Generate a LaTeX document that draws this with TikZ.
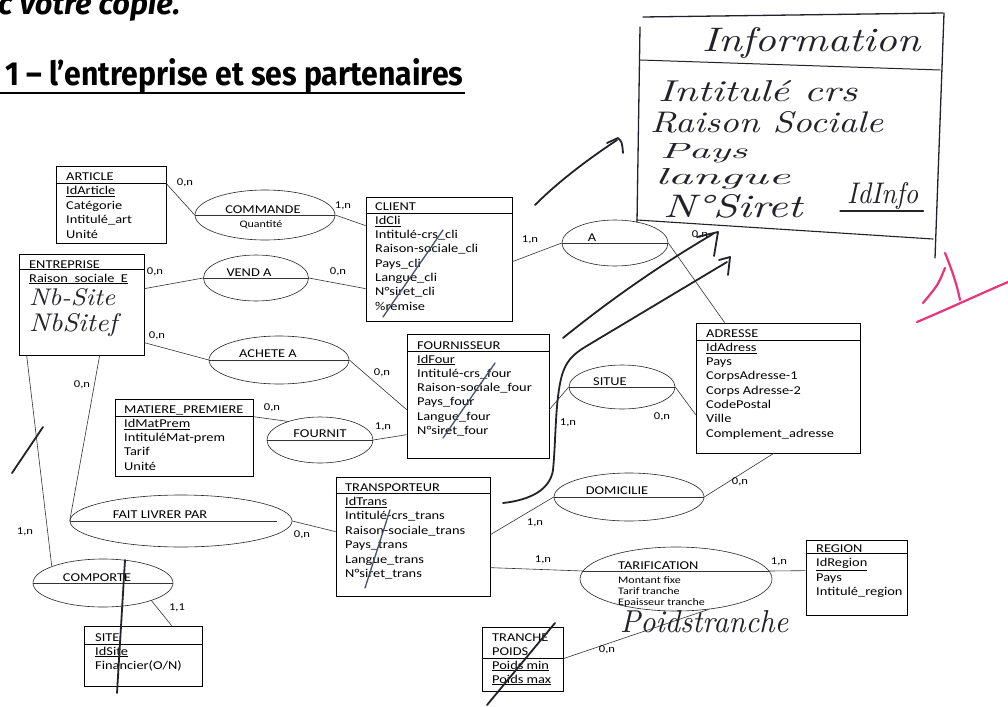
\documentclass[tikz,border=0pt]{standalone}
\usepackage{fontspec}
\usepackage{graphicx}
\usetikzlibrary{shapes.geometric}
\newfontfamily\cali{Carlito}[FakeStretch=1.2]
\newfontfamily\comic{Fira Sans}
\definecolor{pinkmark}{HTML}{E8347A}
\definecolor{ink}{HTML}{222228}
\definecolor{pencil}{HTML}{4A5068}
\newcommand\hw[3]{\resizebox{#1}{#2}{\itshape #3}}
\tikzset{
  ent/.style={draw=black, line width=0.7pt, inner sep=0pt, rectangle},
  hdr/.style={draw=black, line width=0.7pt},
  rel/.style={draw=black!85, line width=0.6pt, ellipse, inner sep=0pt},
  lnk/.style={draw=black!80, line width=0.6pt},
  att/.style={anchor=base west, inner sep=0pt, font=\cali\fontsize{12}{14}\selectfont},
  rlab/.style={anchor=base, inner sep=0pt, font=\cali\fontsize{12}{14}\selectfont},
  small/.style={anchor=base west, inner sep=0pt, font=\cali\fontsize{10}{11}\selectfont},
  card/.style={anchor=center, inner sep=0pt, font=\cali\fontsize{10.5}{12}\selectfont},
  hand/.style={anchor=base west, inner sep=0pt, text=ink},
  stroke/.style={draw=ink, line width=1.8pt, line cap=round, line join=round},
  pen/.style={draw=pencil, line width=1.3pt, line cap=round},
  pinkst/.style={draw=pinkmark, line width=2.2pt, line cap=round}
}
\begin{document}
\begin{tikzpicture}[x=1pt,y=-1pt]
\useasboundingbox (0,0) rectangle (1008,706);
\fill[white] (0,0) rectangle (1008,706);

% titles
\node[anchor=base west, inner sep=0pt] (t0) at (-2,15) {\resizebox{182pt}{!}{\comic\bfseries\itshape c votre copie.}};
\node[anchor=base west, inner sep=0pt] (t1) at (5,86) {\resizebox{458pt}{27pt}{\comic\bfseries 1 – l’entreprise et ses partenaires}};
\draw[line width=1.3pt] ([yshift=-7pt,xshift=-5pt]t1.base west) -- ([yshift=-7pt,xshift=2pt]t1.base east);

% entities
\node[ent, minimum width=110pt, minimum height=77pt] (article) at (111,204.5) {};
\node[ent, minimum width=125pt, minimum height=101pt] (entreprise) at (81.5,304.5) {};
\node[ent, minimum width=146pt, minimum height=124pt] (client) at (439,259) {};
\node[ent, minimum width=142pt, minimum height=124pt] (four) at (478,396) {};
\node[ent, minimum width=138pt, minimum height=77pt] (mat) at (184,437.5) {};
\node[ent, minimum width=164pt, minimum height=130pt] (adresse) at (778,388) {};
\node[ent, minimum width=154pt, minimum height=119pt] (trans) at (413,536.5) {};
\node[ent, minimum width=118pt, minimum height=60pt] (site) at (143,656) {};
\node[ent, minimum width=101pt, minimum height=75pt] (region) at (856.5,577.5) {};
\node[ent, minimum width=81pt, minimum height=64pt] (tranche) at (522.5,659) {};

\draw[hdr] ([yshift=-18pt]article.north west) -- ([yshift=-18pt]article.north east);
\draw[hdr] ([yshift=-16pt]entreprise.north west) -- ([yshift=-16pt]entreprise.north east);
\draw[hdr] ([yshift=-17pt]client.north west) -- ([yshift=-17pt]client.north east);
\draw[hdr] ([yshift=-18pt]four.north west) -- ([yshift=-18pt]four.north east);
\draw[hdr] ([yshift=-18pt]mat.north west) -- ([yshift=-18pt]mat.north east);
\draw[hdr] ([yshift=-18pt]adresse.north west) -- ([yshift=-18pt]adresse.north east);
\draw[hdr] ([yshift=-17pt]trans.north west) -- ([yshift=-17pt]trans.north east);
\draw[hdr] ([yshift=-19pt]site.north west) -- ([yshift=-19pt]site.north east);
\draw[hdr] ([yshift=-14pt]region.north west) -- ([yshift=-14pt]region.north east);
\draw[hdr] ([yshift=-32pt]tranche.north west) -- ([yshift=-32pt]tranche.north east);

% attributes
\foreach \t [count=\i] in {ARTICLE, \underline{IdArticle}, Catégorie, Intitulé\_art, Unité}
  \node[att] (article-\i) at (66,{180+(\i-1)*14.5}) {\t};
\node[att] (entreprise-1) at (29,268) {ENTREPRISE};
\node[att] (entreprise-2) at (29,282) {\underline{Raison\ \ sociale\ \ E}};
\foreach \t [count=\i] in {CLIENT, \underline{IdCli}, Intitulé-crs\_cli, Raison-sociale\_cli, Pays\_cli, Langue\_cli, N°siret\_cli, \%remise}
  \node[att] (client-\i) at (375,{210+(\i-1)*14.3}) {\t};
\foreach \t [count=\i] in {FOURNISSEUR, \underline{IdFour}, Intitulé-crs\_four, Raison-sociale\_four, Pays\_four, Langue\_four, N°siret\_four}
  \node[att] (four-\i) at (417,{349+(\i-1)*14.2}) {\t};
\foreach \t [count=\i] in {MATIERE\_PREMIERE, \underline{IdMatPrem}, IntituléMat-prem, Tarif, Unité}
  \node[att] (mat-\i) at (124,{413+(\i-1)*14.3}) {\t};
\foreach \t [count=\i] in {ADRESSE, \underline{IdAdress}, Pays, CorpsAdresse-1, Corps Adresse-2, CodePostal, Ville, Complement\_adresse}
  \node[att] (adresse-\i) at (706,{337+(\i-1)*14.3}) {\t};
\foreach \t [count=\i] in {TRANSPORTEUR, \underline{IdTrans}, Intitulé-crs\_trans, Raison-sociale\_trans, Pays\_trans, Langue\_trans, N°siret\_trans}
  \node[att] (trans-\i) at (345,{491+(\i-1)*14.4}) {\t};
\foreach \t [count=\i] in {SITE, \underline{IdSite}, Financier(O/N)}
  \node[att] (site-\i) at (95,{641+(\i-1)*14}) {\t};
\foreach \t [count=\i] in {REGION, \underline{IdRegion}, Pays, Intitulé\_region}
  \node[att] (region-\i) at (816,{552+(\i-1)*14.5}) {\t};
\foreach \t [count=\i] in {TRANCHE, POIDS, \underline{Poids min}, \underline{Poids max}}
  \node[att] (tranche-\i) at (492,{641+(\i-1)*14}) {\t};

% relations
\node[rel, minimum width=140pt, minimum height=50pt] (commande) at (265,215) {};
\node[rel, minimum width=105pt, minimum height=46pt] (venda) at (256,278) {};
\node[rel, minimum width=106pt, minimum height=46pt] (a) at (615,243) {};
\node[rel, minimum width=140pt, minimum height=48pt] (achete) at (279,360) {};
\node[rel, minimum width=106pt, minimum height=46pt] (fournit) at (320,440) {};
\node[rel, minimum width=106pt, minimum height=44pt] (situe) at (622,387) {};
\node[rel, minimum width=150pt, minimum height=48pt] (domicilie) at (629,497) {};
\node[rel, minimum width=222pt, minimum height=52pt] (flp) at (181,521) {};
\node[rel, minimum width=140pt, minimum height=48pt] (comporte) at (103,583) {};
\node[rel, minimum width=192pt, minimum height=64pt] (tarif) at (676,579) {};
\coordinate (tl) at (583,571);
\coordinate (tr) at (769,571);

\foreach \r in {commande, venda, a, achete, fournit, situe, domicilie, comporte}
  \draw[lnk] (\r.west) -- (\r.east);
\draw[lnk] (flp.west) -- ([xshift=-15pt]flp.east);
\draw[lnk] (tl) -- (tr);

\node[rlab] (l-commande) at (263,213) {COMMANDE};
\node[small, anchor=base] (l-quant) at (261,227) {Quantité};
\node[rlab] (l-venda) at (249,276) {VEND A};
\node[rlab] (l-a) at (592,241) {A};
\node[rlab] (l-achete) at (268,357) {ACHETE A};
\node[rlab] (l-fournit) at (320,437) {FOURNIT};
\node[rlab] (l-situe) at (610,385) {SITUE};
\node[rlab] (l-dom) at (617,494) {DOMICILIE};
\node[rlab] (l-flp) at (160,518) {FAIT LIVRER PAR};
\node[rlab] (l-comp) at (97,581) {COMPORTE};
\node[att] (l-tarif) at (618,569) {TARIFICATION};
\node[small] (l-t1) at (618,583) {Montant fixe};
\node[small] (l-t2) at (618,594) {Tarif tranche};
\node[small] (l-t3) at (618,605) {Epaisseur tranche};

% connectors
\draw[lnk] ([yshift=-18pt]article.north east) -- (commande.west);
\draw[lnk] (commande.east) -- ([yshift=-29pt]client.north west);
\draw[lnk] ([yshift=-35pt]entreprise.north east) -- (venda.west);
\draw[lnk] (venda.east) -- ([yshift=-92pt]client.north west);
\draw[lnk] ([yshift=-65pt]client.north east) -- (a.west);
\draw[lnk] (a.east) -- ([xshift=29pt]adresse.north west);
\draw[lnk] ([yshift=-89pt]entreprise.north east) -- (achete.west);
\draw[lnk] (achete.east) -- ([yshift=-76pt]four.north west);
\draw[lnk] ([yshift=-18pt]mat.north east) -- (fournit.150);
\draw[lnk] (fournit.east) -- ([yshift=-101pt]four.north west);
\draw[lnk] ([yshift=-76pt]four.north east) -- (situe.west);
\draw[lnk] (situe.east) -- ([yshift=-92pt]adresse.north west);
\draw[lnk] ([xshift=78pt]adresse.south west) -- (domicilie.east);
\draw[lnk] (domicilie.west) -- ([yshift=-58pt]trans.north east);
\draw[lnk] ([xshift=81pt]entreprise.south west) -- (flp.west);
\draw[lnk] (flp.east) -- ([yshift=-55pt]trans.north west);
\draw[lnk] ([xshift=8pt]entreprise.south west) -- (comporte.162);
\draw[lnk] (comporte.340) -- ([xshift=88pt]site.north west);
\draw[lnk] ([yshift=-91pt]trans.north east) -- (tl);
\draw[lnk] (tr) -- ([yshift=-31pt]region.north west);
\draw[lnk] ([yshift=-32pt]tranche.north east) -- (tarif.317);

% cardinalities
\node[card] (c1) at (185,183) {0,n};
\node[card] (c2) at (343,206) {1,n};
\node[card] (c3) at (155,272) {0,n};
\node[card] (c4) at (338,272) {0,n};
\node[card] (c5) at (530,240) {1,n};
\node[card] (c6) at (700,235) {0,n};
\node[card] (c7) at (157,336) {0,n};
\node[card] (c8) at (382,373) {0,n};
\node[card] (c9) at (272,408) {0,n};
\node[card] (c10) at (383,427) {1,n};
\node[card] (c11) at (568,423) {1,n};
\node[card] (c12) at (662,417) {0,n};
\node[card] (c13) at (740,482) {0,n};
\node[card] (c14) at (535,523) {1,n};
\node[card] (c15) at (82,385) {0,n};
\node[card] (c16) at (302,535) {0,n};
\node[card] (c17) at (25,532) {1,n};
\node[card] (c18) at (177,608) {1,1};
\node[card] (c19) at (543,560) {1,n};
\node[card] (c20) at (779,562) {1,n};
\node[card] (c21) at (607,650) {0,n};

% handwritten Information box
\draw[stroke, line width=1.3pt] (643,17) -- (943,13);
\draw[stroke, line width=1.3pt] (640,27) -- (637,222);
\draw[stroke, line width=1.3pt] (944,13) -- (935,258);
\draw[stroke, line width=1.1pt] (637,220) -- (933,239);
\draw[stroke, line width=1.0pt] (640,60) -- (940,70);
\node[hand] (h-info) at (702,52) {\hw{218pt}{24pt}{Information}};
\node[hand] (h-int) at (658,102) {\hw{199pt}{21pt}{Intitulé crs}};
\node[hand] (h-rs) at (650,132) {\hw{233pt}{21pt}{Raison Sociale}};
\node[hand] (h-pays) at (660,158) {\hw{87pt}{15pt}{Pays}};
\node[hand] (h-lang) at (655,184) {\hw{135pt}{16pt}{langue}};
\node[hand] (h-siret) at (663,217) {\hw{139pt}{23pt}{N°Siret}};
\node[hand] (h-id) at (847,203) {\hw{71pt}{21pt}{IdInfo}};
\draw[stroke, line width=1.2pt] ([xshift=-7pt,yshift=-8pt]h-id.base west) -- ([xshift=5pt,yshift=-8pt]h-id.base east);
\node[hand] (h-nb1) at (29,305) {\hw{86pt}{17pt}{Nb-Site}};
\node[hand] (h-nb2) at (29,331) {\hw{88pt}{18pt}{NbSitef}};
\node[hand] (h-pt) at (620,632) {\hw{168pt}{22pt}{Poidstranche}};

% hand-drawn arrows
\draw[stroke] (535,205) .. controls (560,180) and (590,158) .. (617,140);
\draw[stroke] (607,143) -- (618,138) .. controls (622,142) .. (623,153);
\draw[stroke] (563,338) .. controls (610,300) and (660,265) .. (713,234);
\draw[stroke] (697,237) -- (718,232) -- (714,256);
\draw[stroke] (503,503) .. controls (530,500) and (550,490) .. (553,470) .. controls (556,440) and (555,400) .. (562,375) .. controls (566,362) and (572,355) .. (585,347) -- (727,262);
\draw[stroke] (719,260) -- (730,257) -- (728,275);

% strike-through marks
\draw[pen] (383,317) -- (443,230);
\draw[pen] (443,438) -- (495,363);
\draw[pen] (365,588) -- (390,510);
\draw[stroke] (487,705) -- (555,623);
\draw[stroke] (125,560) -- (117,693);
\draw[stroke] (12,473) -- (43,427);

% pink mark
\draw[pinkst] (945,253) .. controls (952,270) and (957,285) .. (960,300);
\draw[pinkst] (945,268) .. controls (938,285) .. (923,303);
\draw[pinkst] (917,322) .. controls (950,308) and (980,294) .. (1008,282);
\end{tikzpicture}
\end{document}
